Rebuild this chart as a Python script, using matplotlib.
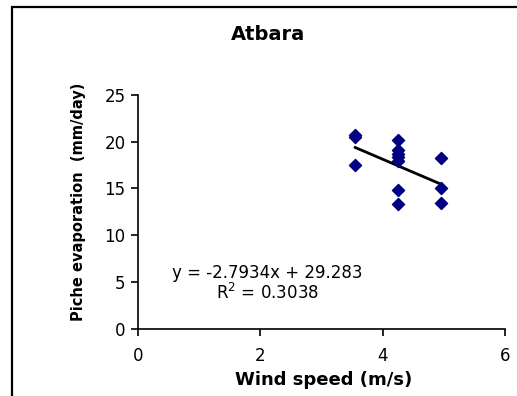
import matplotlib.pyplot as plt
import matplotlib.patches as mpatches

# wind speed (m/s) and piche evaporation (mm/day)
wind = [3.55, 3.55, 3.55,
        4.25, 4.25, 4.25, 4.25, 4.25, 4.25, 4.25,
        4.95, 4.95, 4.95]
evap = [20.7, 20.5, 17.5,
        20.2, 19.1, 18.7, 18.3, 17.9, 14.8, 13.3,
        18.2, 15.0, 13.4]

slope = -2.7934
intercept = 29.283
r2 = 0.3038

plt.rcParams['font.family'] = ['DejaVu Sans']

fig = plt.figure(figsize=(5.17, 3.96), dpi=100)
ax = fig.add_axes([0.267, 0.169, 0.710, 0.592])

# outer chart frame (runs off the right and bottom edges)
frame = mpatches.Rectangle((12 / 517, -0.05), 1.1, 1.05 - 7 / 396,
                           transform=fig.transFigure, fill=False,
                           edgecolor='black', linewidth=1.6, clip_on=False)
fig.patches.append(frame)

ax.scatter(wind, evap, marker='D', s=38, color='#000080', zorder=3)

x0, x1 = min(wind), max(wind)
ax.plot([x0, x1], [slope * x0 + intercept, slope * x1 + intercept],
        color='black', linewidth=2, zorder=2)

ax.set_xlim(0, 6)
ax.set_ylim(0, 25)
ax.set_xticks([0, 2, 4, 6])
ax.set_yticks([0, 5, 10, 15, 20, 25])
for s in ['top', 'right']:
    ax.spines[s].set_visible(False)
for s in ['left', 'bottom']:
    ax.spines[s].set_linewidth(1.2)
ax.tick_params(labelsize=12, length=5, width=1.2)
ax.tick_params(axis='x', pad=8)
ax.tick_params(axis='y', pad=4)

ax.set_xlabel('Wind speed (m/s)', fontsize=13, fontweight='bold', va='center')
ax.xaxis.set_label_coords(0.505, -0.218)
ax.set_ylabel('Piche evaporation  (mm/day)', fontsize=10.5, fontweight='bold',
              va='center')
ax.yaxis.set_label_coords(-0.161, 0.543)
fig.text(0.518, 0.914, 'Atbara', ha='center', va='center', fontsize=14,
         fontweight='bold')

ax.text(2.11, 6.0, 'y = %.4fx + %.3f' % (slope, intercept), ha='center',
        va='center', fontsize=12)
ax.text(2.11, 3.9, '$\\mathregular{R^2}$ = %.4f' % r2, ha='center',
        va='center', fontsize=12)

fig.savefig('out.png', dpi=100)
